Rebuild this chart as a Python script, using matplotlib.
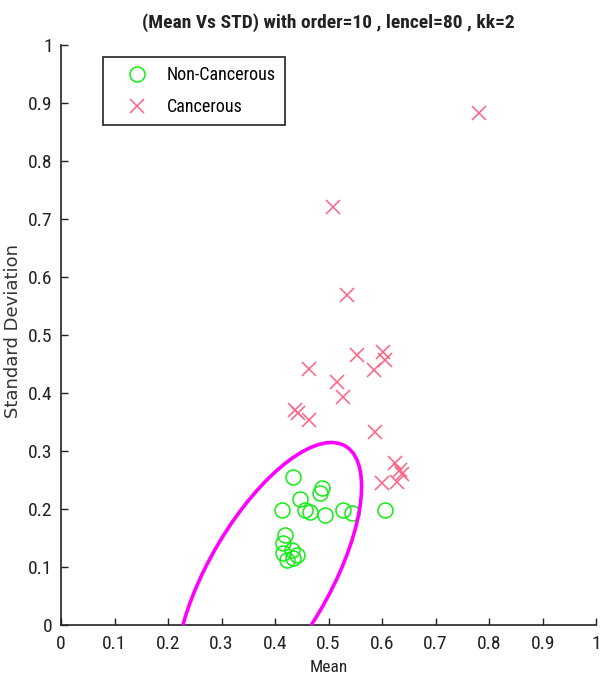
import numpy as np
import matplotlib
matplotlib.use("Agg")
import matplotlib.pyplot as plt
from matplotlib.patches import Ellipse

plt.rcParams['font.family'] = ['Roboto Condensed', 'Liberation Sans', 'DejaVu Sans']

# Non-Cancerous samples (mean, std)
non_mean = [0.434, 0.487, 0.484, 0.4125, 0.447, 0.456, 0.465, 0.4935, 0.5277,
            0.543, 0.4187, 0.4156, 0.4156, 0.431, 0.4405, 0.4218, 0.434, 0.6056]
non_std = [0.2557, 0.236, 0.227, 0.198, 0.218, 0.198, 0.195, 0.190, 0.198,
           0.1925, 0.155, 0.141, 0.1236, 0.129, 0.1207, 0.112, 0.115, 0.198]

# Cancerous samples (mean, std)
can_mean = [0.509, 0.534, 0.554, 0.6025, 0.6056, 0.584, 0.4636, 0.515, 0.5277,
            0.438, 0.442, 0.4636, 0.587, 0.624, 0.634, 0.599, 0.627, 0.638, 0.781]
can_std = [0.720, 0.569, 0.4655, 0.471, 0.457, 0.440, 0.441, 0.4195, 0.3937,
           0.370, 0.366, 0.3534, 0.333, 0.279, 0.267, 0.244, 0.247, 0.260, 0.882]

# decision ellipse (center, spreads, correlation)
ell_center = (0.3884, 0.0812)
ell_sx = 0.1733
ell_sy = 0.2334
ell_rho = 0.6748

ticks = [0, 0.1, 0.2, 0.3, 0.4, 0.5, 0.6, 0.7, 0.8, 0.9, 1]
tick_labels = ["0", "0.1", "0.2", "0.3", "0.4", "0.5", "0.6", "0.7", "0.8", "0.9", "1"]

fig = plt.figure(figsize=(6.02, 6.84), dpi=100)
ax = fig.add_axes([0.1013, 0.0863, 0.889, 0.848])

cov = np.array([[ell_sx ** 2, ell_rho * ell_sx * ell_sy],
                [ell_rho * ell_sx * ell_sy, ell_sy ** 2]])
vals, vecs = np.linalg.eigh(cov)
angle = np.degrees(np.arctan2(vecs[1, 1], vecs[0, 1]))
ell = Ellipse(ell_center, 2 * np.sqrt(vals[1]), 2 * np.sqrt(vals[0]), angle=angle,
              fill=False, edgecolor='#ff00ff', lw=2.6, zorder=3)
ax.add_patch(ell)

ax.plot(non_mean, non_std, 'o', mfc='none', mec='#11ee11', mew=1.1, ms=10.8,
        label='Non-Cancerous', zorder=2)
ax.plot(can_mean, can_std, 'x', color='#ff6080', mew=1.1, ms=9.5,
        label='Cancerous', zorder=2)

ax.set_xlim(0, 1)
ax.set_ylim(0, 1)
ax.set_xticks(ticks)
ax.set_xticklabels(tick_labels)
ax.set_yticks(ticks)
ax.set_yticklabels(tick_labels)
ax.tick_params(direction='in', length=5, width=1, colors='#222222', labelsize=14)
ax.tick_params(axis='x', pad=7)
ax.tick_params(axis='y', pad=6)
for s in ['top', 'right']:
    ax.spines[s].set_visible(False)
for s in ['left', 'bottom']:
    ax.spines[s].set_color('#222222')
    ax.spines[s].set_linewidth(1.2)

ax.set_xlabel('Mean', fontsize=12.5, color='#222222', labelpad=5)
ax.set_ylabel('Standard Deviation', fontsize=13, color='#333333', family=['DejaVu Sans'])
ax.yaxis.set_label_coords(-0.072, 0.507)
ax.set_title('(Mean Vs STD) with order=10 , lencel=80 , kk=2', fontsize=14,
             fontweight='bold', color='#222222', pad=12)

leg = ax.legend(loc='upper left', bbox_to_anchor=(0.0785, 0.979), fontsize=13,
                fancybox=False, edgecolor='#222222', framealpha=1,
                borderpad=0.5, handlelength=2.8, handletextpad=0.25,
                labelspacing=0.76, borderaxespad=0)
leg.get_frame().set_linewidth(1.2)

fig.savefig('out.png', dpi=100)
